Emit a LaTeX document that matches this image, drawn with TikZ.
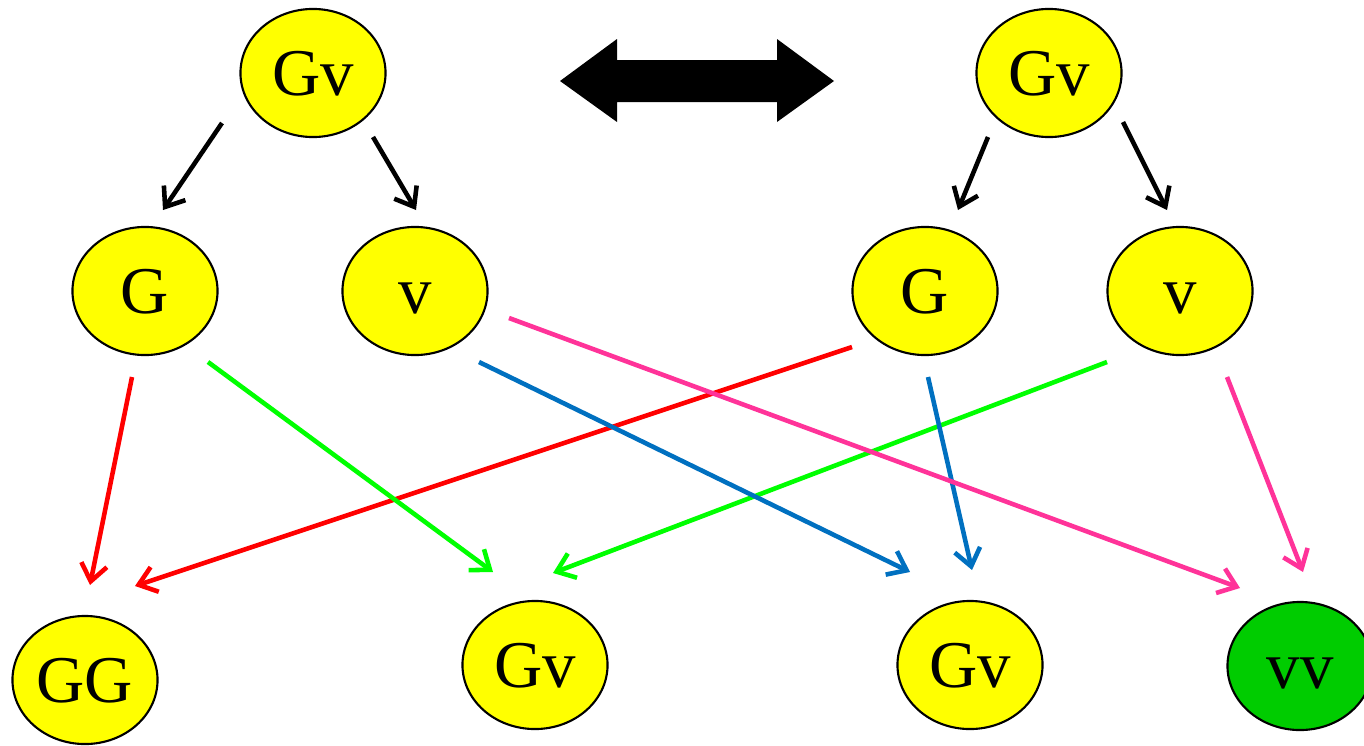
\documentclass[tikz,border=0pt]{standalone}
\usepackage{fontspec}
\setmainfont{Liberation Serif}
\usetikzlibrary{shapes.geometric,arrows.meta}
\definecolor{ylw}{RGB}{255,255,0}
\definecolor{grnfill}{RGB}{0,204,0}
\definecolor{cred}{RGB}{255,0,0}
\definecolor{cgreen}{RGB}{0,255,0}
\definecolor{cblue}{RGB}{0,112,192}
\definecolor{cpink}{RGB}{255,51,153}
\tikzset{
  bubble/.style={ellipse, draw=black, line width=0.6pt, fill=ylw, minimum width=1.45cm, minimum height=1.28cm, inner sep=0pt, font=\fontsize{19}{22}\selectfont, text height=12.6pt, text depth=0pt},
  conn/.style={line width=1.3pt, -{Straight Barb[length=1.7mm,width=2.6mm,line width=1.3pt]}}
}
\begin{document}
\begin{tikzpicture}[x=0.01cm,y=-0.01cm]
\useasboundingbox (0,0) rectangle (1364,745);
\begin{scope}
\clip (0,0) rectangle (1364,745);
% nodes
\node[bubble] (tl) at (313,73) {Gv};
\node[bubble] (tr) at (1049,73) {Gv};
\node[bubble] (gl) at (145,291) {G};
\node[bubble] (vl) at (415,291) {v};
\node[bubble] (gr) at (925,291) {G};
\node[bubble] (vr) at (1180,291) {v};
\node[bubble] (gg) at (85,680) {GG};
\node[bubble] (b1) at (535,665) {Gv};
\node[bubble] (b2) at (970,665) {Gv};
\node[bubble, fill=grnfill] (vv) at (1300,666) {vv};
\end{scope}
% double arrow
\fill[black] (560,81) -- (617,39) -- (617,60) -- (777,60) -- (777,39) -- (834,81) -- (777,122) -- (777,102) -- (617,102) -- (617,122) -- cycle;
% coordinates for connector ends
\coordinate (a1s) at (222,123); \coordinate (a1e) at (163,210);
\coordinate (a2s) at (373,137); \coordinate (a2e) at (416,210);
\coordinate (a3s) at (988,137); \coordinate (a3e) at (958,210);
\coordinate (a4s) at (1123,122); \coordinate (a4e) at (1167,210);
\coordinate (r1s) at (132,377); \coordinate (r1e) at (90,585);
\coordinate (r2s) at (852,347); \coordinate (r2e) at (135,586);
\coordinate (g1s) at (208,362); \coordinate (g1e) at (493,572);
\coordinate (g2s) at (1107,362); \coordinate (g2e) at (553,573);
\coordinate (bl1s) at (479,362); \coordinate (bl1e) at (910,572);
\coordinate (bl2s) at (928,377); \coordinate (bl2e) at (972,570);
\coordinate (p1s) at (509,318); \coordinate (p1e) at (1240,588);
\coordinate (p2s) at (1227,377); \coordinate (p2e) at (1303,572);
% connectors
\draw[conn, black] (a1s) -- (a1e);
\draw[conn, black] (a2s) -- (a2e);
\draw[conn, black] (a3s) -- (a3e);
\draw[conn, black] (a4s) -- (a4e);
\draw[conn, cred] (r1s) -- (r1e);
\draw[conn, cred] (r2s) -- (r2e);
\draw[conn, cgreen] (g1s) -- (g1e);
\draw[conn, cgreen] (g2s) -- (g2e);
\draw[conn, cblue] (bl1s) -- (bl1e);
\draw[conn, cblue] (bl2s) -- (bl2e);
\draw[conn, cpink] (p1s) -- (p1e);
\draw[conn, cpink] (p2s) -- (p2e);
\end{tikzpicture}
\end{document}
